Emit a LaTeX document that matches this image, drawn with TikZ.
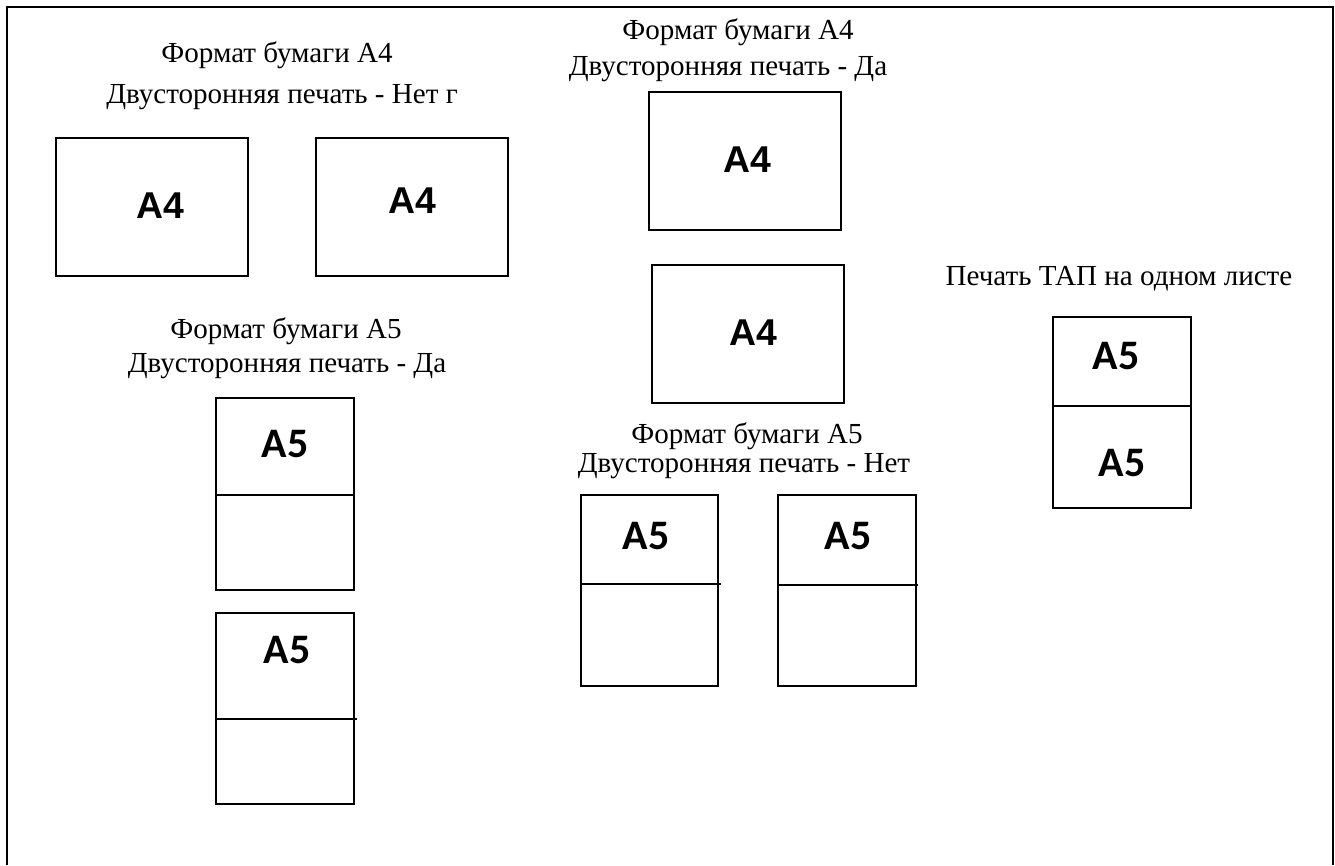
\documentclass[tikz,border=0pt]{standalone}
\usepackage{fontspec}
\setmainfont{Liberation Serif}
\newfontfamily\arialfont{Liberation Sans}
\newfontfamily\calibrifont{Carlito}
\usetikzlibrary{calc}

\tikzset{
  sheet/.style={draw, line width=1.1pt},
  caption/.style={inner sep=0pt, font=\fontsize{21.8}{24}\selectfont},
  labelfour/.style={inner sep=0pt, font=\arialfont\bfseries\fontsize{28}{30}\selectfont},
  labelfive/.style={inner sep=0pt, font=\calibrifont\bfseries\fontsize{31.5}{33}\selectfont}
}

\begin{document}
\begin{tikzpicture}[x=0.75pt, y=-0.75pt, line join=miter, line cap=butt]
    % Размер листа
    \useasboundingbox (0,0) rectangle (1335,865);

    % Рамка (без нижней стороны)
    \draw[line width=1.8pt] (7,865) -- (7,7) -- (1333,7) -- (1333,865);

    % А4, односторонняя печать
    \node[caption] (capA) at (277,55) {Формат бумаги А4};
    \node[caption] (capB) at (282,97) {Двусторонняя печать - Нет г};
    \draw[sheet] (56,138) rectangle (248,276);
    \draw[sheet] (316,138) rectangle (508,276);
    \node[labelfour] (fourA) at (160,206) {A4};
    \node[labelfour] (fourB) at (412,201) {A4};

    % А4, двусторонняя печать
    \node[caption] (capC) at (738,32) {Формат бумаги А4};
    \node[caption] (capD) at (728,69) {Двусторонняя печать - Да};
    \draw[sheet] (649,92) rectangle (841,230);
    \draw[sheet] (652,265) rectangle (844,403);
    \node[labelfour] (fourC) at (747,160) {A4};
    \node[labelfour] (fourD) at (753,333) {A4};

    % Печать ТАП на одном листе
    \node[caption] (capE) at (1119,279) {Печать ТАП на одном листе};
    \draw[sheet] (1053,317) rectangle (1191,508);
    \draw[sheet] (1053,406) -- (1191,406);
    \node[labelfive] (fiveA) at (1116,356) {A5};
    \node[labelfive] (fiveB) at (1122,463) {A5};

    % А5, двусторонняя печать
    \node[caption] (capF) at (286,331) {Формат бумаги А5};
    \node[caption] (capG) at (287,366) {Двусторонняя печать - Да};
    \draw[sheet] (216,398) rectangle (354,590);
    \draw[sheet] (216,495) -- (354,495);
    \node[labelfive] (fiveC) at (285,444) {A5};
    \draw[sheet] (216,613) rectangle (354,804);
    \draw[sheet] (216,719) -- (357,719);
    \node[labelfive] (fiveD) at (287,650) {A5};

    % А5, односторонняя печать
    \node[caption] (capH) at (747,436) {Формат бумаги А5};
    \node[caption] (capI) at (744,466) {Двусторонняя печать - Нет};
    \draw[sheet] (581,495) rectangle (718,686);
    \draw[sheet] (581,584) -- (721,584);
    \node[labelfive] (fiveE) at (646,536) {A5};
    \draw[sheet] (778,495) rectangle (916,686);
    \draw[sheet] (778,585) -- (918,585);
    \node[labelfive] (fiveF) at (848,536) {A5};
\end{tikzpicture}
\end{document}
